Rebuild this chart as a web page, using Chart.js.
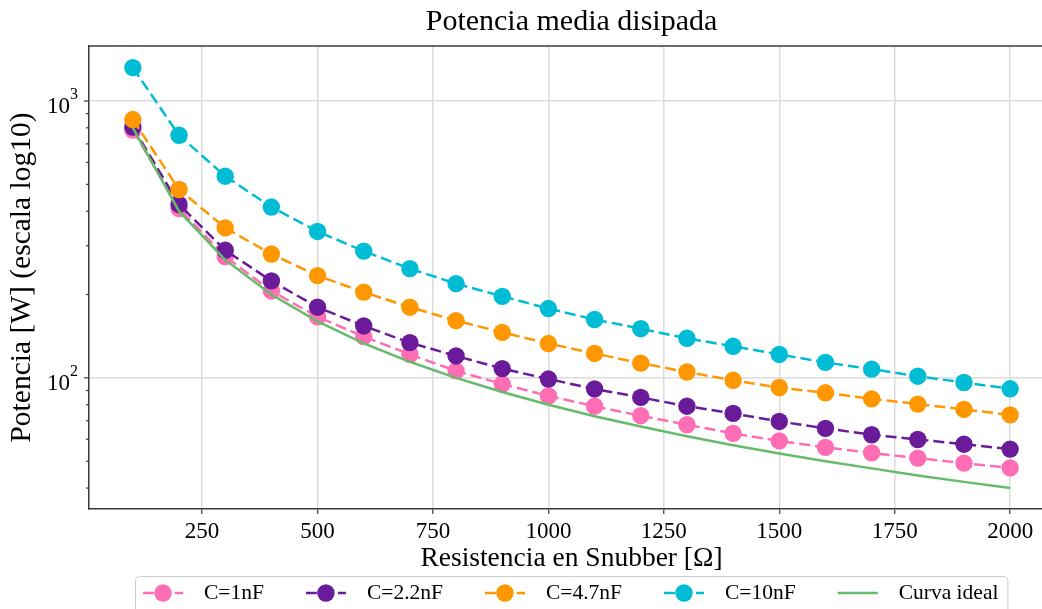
<!DOCTYPE html>
<html>
<head>
<meta charset="utf-8">
<script src="https://cdn.jsdelivr.net/npm/chart.js@4.4.1/dist/chart.umd.min.js"></script>
<style>
  body { margin: 0; background: #fff; overflow: hidden; }
</style>
</head>
<body>
<canvas id="potChart" width="1042" height="609"></canvas>
<script>
// resistencia del snubber (ohm)
const resistencias = [100, 200, 300, 400, 500, 600, 700, 800, 900, 1000,
  1100, 1200, 1300, 1400, 1500, 1600, 1700, 1800, 1900, 2000];

// potencia media disipada (W) para cada condensador
const potencia1nF = [785, 409, 274, 206, 166, 141, 121.5, 106, 95, 86,
  79, 73, 67.7, 63, 59.2, 56.1, 53.6, 51.3, 49.2, 47.3];
const potencia2n2F = [805, 423, 289, 224, 180, 154, 134, 120, 108, 99,
  91.2, 85, 79, 74.4, 69.6, 65.7, 62.3, 59.9, 57.6, 55.3];
const potencia4n7F = [857, 479, 348, 280, 234, 204, 180, 161, 146, 133,
  122.5, 113, 105, 98, 92.3, 88.3, 84, 80.4, 76.9, 73.5];
const potencia10nF = [1320, 752, 535, 414, 338, 287, 248, 219, 197, 178,
  162.5, 150.5, 139, 130, 121.5, 113.7, 107.5, 101.4, 96.2, 91.3];
const potenciaIdeal = [800, 400, 266.7, 200, 160, 133.3, 114.3, 100, 88.9, 80,
  72.7, 66.7, 61.5, 57.1, 53.3, 50, 47.1, 44.4, 42.1, 40];

// ejes
const ticksX = [250, 500, 750, 1000, 1250, 1500, 1750, 2000];
const ticksY = [40, 50, 60, 70, 80, 90, 100, 200, 300, 400, 500, 600, 700, 800, 900, 1000];
const exponentesY = { 100: '2', 1000: '3' }; // decadas con etiqueta 10^n

const serif = '"Liberation Serif", "Times New Roman", serif';

// estilo de cada curva (la ideal va encima de todo)
const curvas = [
  { label: 'C=1nF', data: potencia1nF, color: '#ff6eb4', dash: [11, 5], marca: 8.7, order: 4 },
  { label: 'C=2.2nF', data: potencia2n2F, color: '#6a1b9a', dash: [11, 5], marca: 8.7, order: 3 },
  { label: 'C=4.7nF', data: potencia4n7F, color: '#ff9800', dash: [11, 5], marca: 8.7, order: 2 },
  { label: 'C=10nF', data: potencia10nF, color: '#00bcd4', dash: [11, 5], marca: 8.7, order: 1 },
  { label: 'Curva ideal', data: potenciaIdeal, color: '#66bb6a', dash: [], marca: 0, order: 0 },
];

const datasets = curvas.map(c => ({
  label: c.label,
  data: resistencias.map((r, i) => ({ x: r, y: c.data[i] })),
  borderColor: c.color,
  backgroundColor: c.color,
  borderWidth: 2.5,
  borderDash: c.dash,
  pointRadius: c.marca,
  pointHoverRadius: c.marca,
  pointBackgroundColor: c.color,
  pointBorderWidth: 0,
  tension: 0,
  fill: false,
  order: c.order,
}));

// centro horizontal del eje completo (el eje x llega hasta 2095, fuera del lienzo)
const centroEje = chart => {
  const xs = chart.scales.x;
  return (xs.getPixelForValue(5) + xs.getPixelForValue(2095)) / 2;
};

// marco superior, marcas del eje y, etiquetas 10^n, rotulos y leyenda
const decoracion = {
  id: 'decoracion',
  afterDraw(chart) {
    const ctx = chart.ctx;
    const area = chart.chartArea;
    const ys = chart.scales.y;
    const centro = centroEje(chart);
    ctx.save();

    // borde superior
    ctx.strokeStyle = '#3a3a3a';
    ctx.lineWidth = 1.5;
    ctx.beginPath();
    ctx.moveTo(area.left - 0.75, area.top);
    ctx.lineTo(chart.width, area.top);
    ctx.stroke();

    // marcas mayores y menores del eje logaritmico
    ctx.lineWidth = 1.2;
    ys.ticks.forEach(t => {
      const py = ys.getPixelForValue(t.value);
      const mayor = exponentesY[t.value] !== undefined;
      ctx.beginPath();
      ctx.moveTo(area.left - (mayor ? 5 : 3), py);
      ctx.lineTo(area.left, py);
      ctx.stroke();
      if (mayor) {
        ctx.fillStyle = '#000';
        ctx.textBaseline = 'alphabetic';
        ctx.font = '23px ' + serif;
        ctx.textAlign = 'right';
        ctx.fillText('10', area.left - 19, py + 12);
        ctx.font = '16px ' + serif;
        ctx.textAlign = 'left';
        ctx.fillText(exponentesY[t.value], area.left - 19, py - 2);
      }
    });

    // titulo y rotulo del eje x
    ctx.fillStyle = '#000';
    ctx.textAlign = 'center';
    ctx.textBaseline = 'middle';
    ctx.font = '30px ' + serif;
    ctx.fillText('Potencia media disipada', centro, 22);
    ctx.font = '27.5px ' + serif;
    ctx.fillText('Resistencia en Snubber [Ω]', centro, area.bottom + 50);

    // leyenda en una fila bajo el eje x
    ctx.font = '21.5px ' + serif;
    const anchos = chart.data.datasets.map(ds => 40 + 21 + ctx.measureText(ds.label).width);
    const sep = 42;
    const total = anchos.reduce((a, b) => a + b, 0) + sep * (anchos.length - 1) + 17;
    let x = Math.round(centro - total / 2);
    const top = area.bottom + 67;
    const cy = top + 17;
    ctx.fillStyle = 'rgba(255,255,255,0.8)';
    ctx.strokeStyle = '#cccccc';
    ctx.lineWidth = 1;
    ctx.beginPath();
    ctx.roundRect(x + 0.5, top + 0.5, total, 70, 4);
    ctx.fill();
    ctx.stroke();
    x += 8;
    chart.data.datasets.forEach((ds, i) => {
      ctx.strokeStyle = ds.borderColor;
      ctx.lineWidth = ds.borderWidth;
      ctx.setLineDash(ds.borderDash);
      ctx.beginPath();
      ctx.moveTo(x, cy);
      ctx.lineTo(x + 40, cy);
      ctx.stroke();
      ctx.setLineDash([]);
      if (ds.pointRadius > 0) {
        ctx.fillStyle = ds.pointBackgroundColor;
        ctx.beginPath();
        ctx.arc(x + 20, cy, ds.pointRadius, 0, Math.PI * 2);
        ctx.fill();
      }
      ctx.fillStyle = '#000';
      ctx.textAlign = 'left';
      ctx.textBaseline = 'middle';
      ctx.fillText(ds.label, x + 61, cy);
      x += anchos[i] + sep;
    });
    ctx.restore();
  }
};

new Chart(document.getElementById('potChart'), {
  type: 'line',
  data: { datasets },
  options: {
    responsive: false,
    animation: false,
    layout: { autoPadding: false, padding: { left: 0, right: 0, top: 46, bottom: 33 } },
    plugins: {
      legend: { display: false },
      tooltip: { enabled: false },
      title: { display: false },
    },
    scales: {
      x: {
        type: 'linear',
        min: 5,
        max: 2069,
        afterBuildTicks: s => { s.ticks = ticksX.map(v => ({ value: v })); },
        afterFit: s => { s.height = 67; },
        grid: { color: '#dcdcdc', lineWidth: 1.5, tickColor: '#3a3a3a', tickLength: 5, tickWidth: 1.2 },
        border: { color: '#3a3a3a', width: 1.5 },
        ticks: {
          color: '#000',
          font: { family: serif, size: 23 },
          padding: 4,
          maxRotation: 0,
          autoSkip: false,
          callback: v => String(v),
        },
      },
      y: {
        type: 'logarithmic',
        min: 33.6,
        max: 1580,
        afterBuildTicks: s => { s.ticks = ticksY.map(v => ({ value: v })); },
        afterFit: s => { s.width = 89; },
        grid: {
          color: c => (c.tick && exponentesY[c.tick.value] !== undefined) ? '#dcdcdc' : 'rgba(0,0,0,0)',
          lineWidth: 1.5,
          drawTicks: false,
        },
        border: { color: '#3a3a3a', width: 1.5 },
        ticks: { display: false, autoSkip: false },
        title: {
          display: true,
          text: 'Potencia [W] (escala log10)',
          color: '#000',
          font: { family: serif, size: 29.5 },
          padding: { top: 5, bottom: 0 },
        },
      },
    },
  },
  plugins: [decoracion],
});
</script>
</body>
</html>
